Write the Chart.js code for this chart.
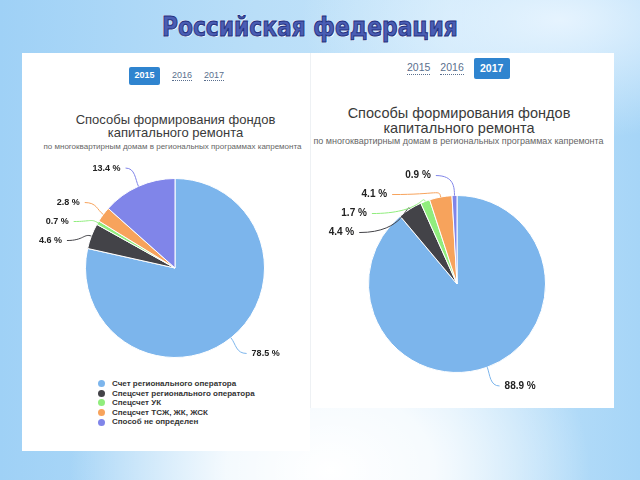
<!DOCTYPE html>
<html>
<head>
<meta charset="utf-8">
<script src="https://cdn.jsdelivr.net/npm/chart.js@4/dist/chart.umd.min.js"></script>
<style>
	body {
		margin: 0;
		width: 640px;
		height: 480px;
		overflow: hidden;
		position: relative;
		font-family: "Liberation Sans", Arial, sans-serif;
		background:
			radial-gradient(ellipse 260px 200px at 330px 470px, rgba(255,255,255,1) 0%, rgba(255,255,255,0.85) 40%, rgba(255,255,255,0) 100%),
			radial-gradient(ellipse 260px 120px at 560px 20px, rgba(235,246,255,0.9) 0%, rgba(235,246,255,0) 100%),
			linear-gradient(90deg, #9fd1f6 0%, #b9def8 40%, #c6e5fa 70%, #a6d5f7 100%);
	}
	.panel { position: absolute; background: #fff; }
	#slideTitle {
		position: absolute;
		left: 0;
		top: 11px;
		white-space: nowrap;
		font-family: "DejaVu Sans Condensed", "DejaVu Sans", sans-serif;
		font-weight: bold;
		font-size: 27px;
		line-height: 32px;
		color: #4a5db4;
		-webkit-text-stroke: 1px #22307e;
		text-shadow: 1px 1px 0 #fff, -1px -1px 0 #dfe8ff;
		transform-origin: 0 0;
	}
	.years { position: absolute; display: flex; align-items: center; }
	.years span { color: #5a6f8e; border-bottom: 1px dotted #5a6f8e; line-height: 1.1; }
	.years span.active { background: #2f84cf; color: #fff; font-weight: bold; border: none; border-radius: 2px; display: flex; align-items: center; justify-content: center; }
	.ttl { position: absolute; text-align: center; color: #3a3a3a; white-space: nowrap; }
	.sub { position: absolute; text-align: center; color: #666; white-space: nowrap; }
	canvas { position: absolute; }
	#legend { position: absolute; left: 98px; top: 379px; margin: 0; padding: 0; list-style: none; font-size: 8px; font-weight: bold; color: #333; }
	#legend li { height: 9.6px; line-height: 9.6px; display: flex; align-items: center; white-space: nowrap; }
	#legend i { display: inline-block; width: 7px; height: 7px; border-radius: 50%; margin-right: 7px; }
</style>
</head>
<body>
<div class="panel" style="left:22px;top:53px;width:288px;height:398px"></div>
<div class="panel" style="left:310px;top:53px;width:303px;height:355px;border-left:1px solid #eef1f4"></div>

<div id="slideTitle">Российская федерация</div>

<div class="years" id="years1" style="left:129px;top:67px;font-size:9px"></div>
<div class="years" id="years2" style="left:407px;top:58px;font-size:10.5px"></div>

<div class="ttl" style="left:22px;width:307px;top:113px;font-size:13px;line-height:13px">Способы формирования фондов<br>капитального ремонта</div>
<div class="sub" style="left:22px;width:301px;top:142px;font-size:8px">по многоквартирным домам в региональных программах капремонта</div>

<div class="ttl" style="left:310px;width:298px;top:106px;font-size:14.5px;line-height:15px">Способы формирования фондов<br>капитального ремонта</div>
<div class="sub" style="left:310px;width:297px;top:136px;font-size:9px">по многоквартирным домам в региональных программах капремонта</div>

<canvas id="pie1" width="288" height="210" style="left:22px;top:160px"></canvas>
<canvas id="pie2" width="300" height="240" style="left:312px;top:160px"></canvas>

<ul id="legend"></ul>

<script>
const categories = ['Счет регионального оператора', 'Спецсчет регионального оператора', 'Спецсчет УК', 'Спецсчет ТСЖ, ЖК, ЖСК', 'Способ не определен']
const shares2015 = [78.5, 4.6, 0.7, 2.8, 13.4]
const shares2017 = [88.9, 4.4, 1.7, 4.1, 0.9]
const years = ['2015', '2016', '2017']
const colors = ['#7cb5ec', '#434348', '#90ed7d', '#f7a35c', '#8085e9']

// scale the decorative slide title to the width it has in the slide
let slideTitle = document.getElementById('slideTitle')
let k = 296 / slideTitle.offsetWidth
slideTitle.style.transform = 'scale(' + k + ',1)'
slideTitle.style.left = (310 - 148) + 'px'

function yearTabs(id, active, gap, btnW, btnH) {
	let box = document.getElementById(id)
	box.style.gap = gap + 'px'
	years.forEach(y => {
		let s = document.createElement('span')
		s.textContent = y
		if (y === active) {
			s.className = 'active'
			s.style.width = btnW + 'px'
			s.style.height = btnH + 'px'
		}
		box.appendChild(s)
	})
}
yearTabs('years1', '2015', 12, 31, 18)
yearTabs('years2', '2017', 10, 36, 21)

let legend = document.getElementById('legend')
categories.forEach((c, i) => {
	let li = document.createElement('li')
	li.innerHTML = '<i style="background:' + colors[i] + '"></i>'
	li.appendChild(document.createTextNode(c))
	legend.appendChild(li)
})

// Highcharts-like outside labels with curved connectors
const outsideLabels = {
	id: 'outsideLabels',
	afterDatasetsDraw(chart, args, opts) {
		let ctx = chart.ctx
		let meta = chart.getDatasetMeta(0)
		let values = chart.data.datasets[0].data
		let items = meta.data.map((arc, i) => {
			let mid = (arc.startAngle + arc.endAngle) / 2
			let r = arc.outerRadius
			return {
				i: i, mid: mid, r: r, cx: arc.x, cy: arc.y,
				right: Math.cos(mid) >= 0,
				y: arc.y + Math.sin(mid) * (r + opts.distance),
			}
		})
		for (let side of [true, false]) {
			let list = items.filter(it => it.right === side).sort((a, b) => a.y - b.y)
			for (let j = 1; j < list.length; j++) {
				list[j].y = Math.max(list[j].y, list[j - 1].y + opts.spacing)
			}
		}
		ctx.save()
		ctx.font = 'bold ' + opts.fontSize + 'px "Liberation Sans", Arial, sans-serif'
		ctx.textBaseline = 'middle'
		items.forEach(it => {
			let R = it.r + opts.distance + 2
			let dy = it.y - it.cy
			let dx = Math.sqrt(Math.max(R * R - dy * dy, 0))
			let sgn = it.right ? 1 : -1
			let ax = it.cx + sgn * dx
			let p0x = it.cx + Math.cos(it.mid) * it.r
			let p0y = it.cy + Math.sin(it.mid) * it.r
			let p1x = it.cx + Math.cos(it.mid) * (it.r + 8)
			let p1y = it.cy + Math.sin(it.mid) * (it.r + 8)
			ctx.strokeStyle = colors[it.i]
			ctx.lineWidth = 1
			ctx.beginPath()
			ctx.moveTo(ax, it.y)
			ctx.bezierCurveTo(p1x, it.y, p1x, p1y, p0x, p0y)
			ctx.stroke()
			ctx.fillStyle = '#222'
			ctx.textAlign = it.right ? 'left' : 'right'
			ctx.fillText(values[it.i].toFixed(1) + ' %', ax + sgn * 5, it.y)
		})
		ctx.restore()
	}
}

function makePie(id, data, padding, fontSize) {
	return new Chart(document.getElementById(id), {
		type: 'pie',
		data: {
			labels: categories,
			datasets: [{
				data: data,
				backgroundColor: colors,
				borderColor: '#fff',
				borderWidth: 1,
				hoverOffset: 0,
			}],
		},
		options: {
			responsive: false,
			animation: false,
			events: [],
			layout: { padding: padding },
			plugins: {
				legend: { display: false },
				tooltip: { enabled: false },
				outsideLabels: { distance: 20, spacing: 19, fontSize: fontSize },
			},
		},
		plugins: [outsideLabels],
	})
}

makePie('pie1', shares2015, { left: 63, right: 45, top: 18, bottom: 12 }, 9)
makePie('pie2', shares2017, { left: 56, right: 66, top: 35, bottom: 27 }, 10)
</script>
</body>
</html>
